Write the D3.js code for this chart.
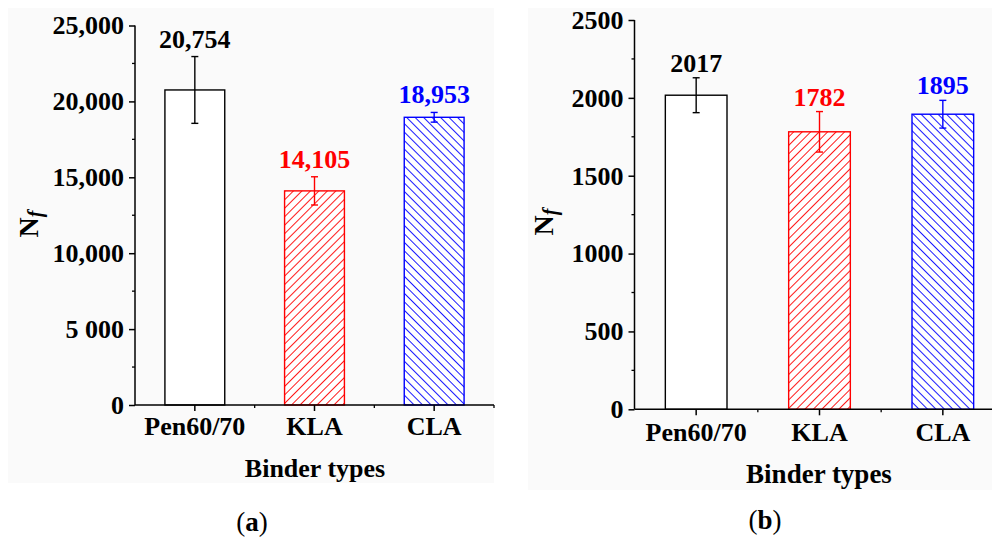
<!DOCTYPE html>
<html>
<head>
<meta charset="utf-8">
<script src="https://cdn.jsdelivr.net/npm/d3@7"></script>
<style>
  body { margin: 0; background: #fff; }
  text { font-family: "Liberation Serif", "Times New Roman", serif; }
</style>
</head>
<body>
<div id="chart"></div>
<script>
// data
var categories = ["Pen60/70", "KLA", "CLA"];
var nfA = [20754, 14105, 18953];
var errA = [2200, 930, 320];
var labelsA = ["20,754", "14,105", "18,953"];
var nfB = [2017, 1782, 1895];
var errB = [112, 130, 89];
var labelsB = ["2017", "1782", "1895"];
var ticksA = [0, 5000, 10000, 15000, 20000, 25000];
var tickLabelsA = ["0", "5 000", "10,000", "15,000", "20,000", "25,000"];
var ticksB = [0, 500, 1000, 1500, 2000, 2500];
var tickLabelsB = ["0", "500", "1000", "1500", "2000", "2500"];
var barColors = ["#000000", "#ff0000", "#0000ff"];
var barFills = ["#ffffff", "url(#hatchFwd)", "url(#hatchBack)"];

var svg = d3.select("#chart")
  .append("svg")
  .attr("width", 992)
  .attr("height", 542);

var defs = svg.append("defs");

function addHatch(id, color, angle) {
  var p = defs.append("pattern")
    .attr("id", id)
    .attr("patternUnits", "userSpaceOnUse")
    .attr("width", 6)
    .attr("height", 6)
    .attr("patternTransform", "rotate(" + angle + ")");
  p.append("rect").attr("width", 6).attr("height", 6).attr("fill", "#ffffff");
  p.append("line")
    .attr("x1", 0).attr("y1", 0).attr("x2", 0).attr("y2", 6)
    .attr("stroke", color)
    .attr("stroke-width", 1.8);
}
addHatch("hatchFwd", "#ff0000", 45);
addHatch("hatchBack", "#0000ff", -45);

function drawPanel(cfg) {
  var g = svg.append("g");

  // faint panel background
  g.append("rect")
    .attr("x", cfg.bg[0]).attr("y", cfg.bg[1])
    .attr("width", cfg.bg[2]).attr("height", cfg.bg[3])
    .attr("fill", "#fafafa");

  var x = d3.scaleBand()
    .domain(categories)
    .range([cfg.x0, cfg.x1])
    .padding(0);

  var y = d3.scaleLinear()
    .domain([0, cfg.yMax])
    .range([cfg.yBottom, cfg.yTop]);

  var bw = x.bandwidth() * 0.5;
  var cx = function (c) { return x(c) + x.bandwidth() / 2; };

  // bars
  g.selectAll(".bar")
    .data(cfg.values)
    .enter()
    .append("rect")
    .attr("x", function (d, i) { return cx(categories[i]) - bw / 2; })
    .attr("y", function (d) { return y(d); })
    .attr("width", bw)
    .attr("height", function (d) { return y(0) - y(d); })
    .attr("fill", function (d, i) { return barFills[i]; })
    .attr("stroke", function (d, i) { return barColors[i]; })
    .attr("stroke-width", 1.4);

  // error bars
  cfg.values.forEach(function (v, i) {
    var c = cx(categories[i]);
    var top = y(v + cfg.errors[i]);
    var bot = y(v - cfg.errors[i]);
    var col = barColors[i];
    g.append("line").attr("x1", c).attr("x2", c).attr("y1", top).attr("y2", bot)
      .attr("stroke", col).attr("stroke-width", 1.4);
    g.append("line").attr("x1", c - 3.5).attr("x2", c + 3.5).attr("y1", top).attr("y2", top)
      .attr("stroke", col).attr("stroke-width", 1.4);
    g.append("line").attr("x1", c - 3.5).attr("x2", c + 3.5).attr("y1", bot).attr("y2", bot)
      .attr("stroke", col).attr("stroke-width", 1.4);
    g.append("text")
      .attr("x", c)
      .attr("y", top - cfg.labelGap)
      .attr("text-anchor", "middle")
      .attr("font-size", "26px")
      .attr("font-weight", "bold")
      .attr("fill", col)
      .text(cfg.labels[i]);
  });

  // y axis
  var yAxis = d3.axisLeft(y)
    .tickValues(cfg.ticks)
    .tickSize(6)
    .tickPadding(5)
    .tickFormat(function (d, i) { return cfg.tickLabels[i]; });
  var ya = g.append("g")
    .attr("transform", "translate(" + cfg.x0 + ",0)")
    .call(yAxis);
  ya.select(".domain").attr("d", "M0," + cfg.yTop + "V" + cfg.yBottom)
    .attr("stroke-width", 1.5);
  ya.selectAll(".tick line").attr("stroke-width", 1.5);
  ya.selectAll(".tick text")
    .attr("font-size", "26px")
    .attr("font-weight", "bold")
    .attr("font-family", "Liberation Serif")
    .attr("fill", "#000");

  // y minor ticks
  var minorY = d3.range(cfg.ticks.length - 1).map(function (i) {
    return (cfg.ticks[i] + cfg.ticks[i + 1]) / 2;
  });
  g.selectAll(".yminor")
    .data(minorY)
    .enter()
    .append("line")
    .attr("x1", cfg.x0 - 3).attr("x2", cfg.x0)
    .attr("y1", function (d) { return y(d); })
    .attr("y2", function (d) { return y(d); })
    .attr("stroke", "#000").attr("stroke-width", 1.3);

  // x axis
  var xa = g.append("g")
    .attr("transform", "translate(0," + cfg.yBottom + ")");
  xa.append("line")
    .attr("x1", cfg.x0).attr("x2", cfg.x1)
    .attr("stroke", "#000").attr("stroke-width", 1.5);
  xa.selectAll(".xmajor")
    .data(categories)
    .enter()
    .append("line")
    .attr("x1", cx).attr("x2", cx)
    .attr("y1", 0).attr("y2", 6)
    .attr("stroke", "#000").attr("stroke-width", 1.5);
  xa.selectAll(".xminor")
    .data(categories.slice(1).concat(["end"]))
    .enter()
    .append("line")
    .attr("x1", function (d) { return d === "end" ? cfg.x1 : x(d); })
    .attr("x2", function (d) { return d === "end" ? cfg.x1 : x(d); })
    .attr("y1", 0).attr("y2", 3)
    .attr("stroke", "#000").attr("stroke-width", 1.3);
  xa.selectAll(".xlabel")
    .data(categories)
    .enter()
    .append("text")
    .attr("x", cx)
    .attr("y", cfg.xLabelDy)
    .attr("text-anchor", "middle")
    .attr("font-size", "26px")
    .attr("font-weight", "bold")
    .text(function (d) { return d; });

  // axis titles
  g.append("text")
    .attr("x", cfg.titleX)
    .attr("y", cfg.titleY)
    .attr("text-anchor", "middle")
    .attr("font-size", cfg.titleSize)
    .attr("font-weight", "bold")
    .text("Binder types");

  var yt = g.append("text")
    .attr("transform", "translate(" + cfg.yLabel[0] + "," + cfg.yLabel[1] + ") rotate(-90)")
    .attr("text-anchor", "middle")
    .attr("font-size", "28px")
    .attr("font-weight", "bold");
  yt.append("tspan").text("N");
  yt.append("tspan")
    .attr("font-style", "italic")
    .attr("font-size", "20px")
    .attr("dy", 4)
    .text("f");

  // panel caption
  var cap = g.append("text")
    .attr("x", cfg.capX)
    .attr("y", cfg.capY)
    .attr("text-anchor", "middle")
    .attr("font-size", "27px");
  cap.append("tspan").text("(");
  cap.append("tspan").attr("font-weight", "bold").text(cfg.caption);
  cap.append("tspan").text(")");
}

drawPanel({
  bg: [8, 8, 486, 475],
  x0: 135, x1: 494,
  yTop: 25.5, yBottom: 405, yMax: 25000,
  values: nfA, errors: errA, labels: labelsA, labelGap: 9,
  ticks: ticksA, tickLabels: tickLabelsA,
  xLabelDy: 30,
  titleX: 315, titleY: 477, titleSize: "26px",
  yLabel: [38, 224],
  capX: 252, capY: 531, caption: "a"
});

drawPanel({
  bg: [528, 8, 464, 482],
  x0: 634.5, x1: 1004.5,
  yTop: 20, yBottom: 409.3, yMax: 2500,
  values: nfB, errors: errB, labels: labelsB, labelGap: 6,
  ticks: ticksB, tickLabels: tickLabelsB,
  xLabelDy: 31.5,
  titleX: 819, titleY: 483, titleSize: "27px",
  yLabel: [553, 222],
  capX: 765, capY: 529, caption: "b"
});
</script>
</body>
</html>
